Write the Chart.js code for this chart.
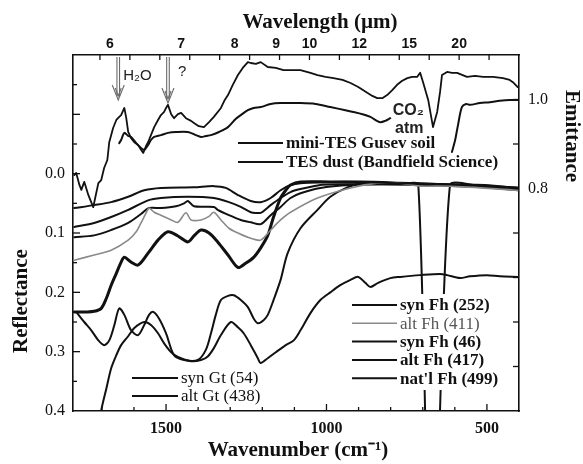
<!DOCTYPE html>
<html>
<head>
<meta charset="utf-8">
<script src="https://cdn.jsdelivr.net/npm/chart.js@4.4.1/dist/chart.umd.min.js"></script>
<style>
  html, body { margin: 0; padding: 0; background: #fff; }
  canvas { display: block; }
</style>
</head>
<body>
<canvas id="spectra" width="583" height="464"></canvas>
<script>
// axis labels
let wnTicks = [500, 1000, 1500];
let wlTicks = [6, 7, 8, 9, 10, 12, 15, 20];
let reflTicks = [0, 0.1, 0.2, 0.3, 0.4];
let emitTicks = [0.8, 1.0];

// emittance spectra (right axis)
let gusevNu = [1786,1780,1770,1764,1755,1742,1727,1711,1702,1693,1683,1677,1665,1655,1646,1640,1630,1624,1618,1609,1599,1587,1578,1571,1562,1556,1547,1537,1525,1516,1506,1500,1494,1484,1475,1463,1453,1438,1422,1413,1398,1382,1366,1351,1329,1317,1307,1292,1276,1261,1245,1236,1220,1205,1183,1158,1134,1106,1081,1050,1028,1003,978,950,925,901,873,857,842,826,811,795,780,764,748,733,717,708,699,683,668,655,646,640,624,609,593,562,537,512,481,450,429,419,404];
let gusevEm = [0.830,0.835,0.808,0.797,0.815,0.785,0.758,0.812,0.819,0.846,0.864,0.904,0.936,0.954,0.961,0.965,0.981,0.958,0.927,0.913,0.904,0.898,0.887,0.880,0.896,0.904,0.920,0.938,0.954,0.965,0.972,0.981,0.988,0.967,0.958,0.967,0.970,0.958,0.952,0.947,0.940,0.938,0.949,0.961,0.981,0.999,1.010,1.033,1.055,1.071,1.084,1.082,1.080,1.084,1.073,1.071,1.066,1.066,1.066,1.060,1.055,1.051,1.048,1.044,1.037,1.028,1.015,1.008,1.003,1.003,1.010,1.021,1.033,1.042,1.048,1.051,1.051,1.060,1.039,0.999,0.938,0.972,1.017,1.055,1.062,1.060,1.060,1.051,1.053,1.051,1.051,1.048,1.044,1.039,1.028];

let dustNu = [1646,1640,1630,1618,1609,1593,1578,1568,1556,1547,1537,1516,1494,1469,1432,1407,1391,1376,1360,1335,1307,1283,1267,1245,1227,1205,1174,1143,1081,1034,988,941,916,888,863,848,832,817,801,700,609,599,590,578,565,553,522,491,460,429,404];
let dustEm = [0.902,0.909,0.925,0.918,0.916,0.902,0.891,0.887,0.898,0.909,0.916,0.920,0.925,0.927,0.927,0.920,0.916,0.918,0.920,0.927,0.938,0.956,0.965,0.976,0.981,0.983,0.990,0.992,0.992,0.990,0.983,0.976,0.972,0.967,0.961,0.954,0.949,0.952,0.958,null,0.882,0.909,0.943,0.983,0.990,0.988,0.992,0.994,0.997,0.999,0.999];

// reflectance spectra (left axis)
let synFh252Nu = [1786,1724,1671,1618,1568,1516,1413,1351,1314,1276,1236,1205,1174,1143,1112,1081,988,894,770,615,506,404];
let synFh252R = [0.058,0.053,0.048,0.039,0.028,0.024,0.023,0.021,0.024,0.036,0.046,0.048,0.041,0.028,0.019,0.016,0.014,0.014,0.016,0.018,0.019,0.024];

let altFh411Nu = [1786,1724,1671,1618,1593,1578,1562,1553,1537,1516,1484,1463,1438,1422,1391,1366,1351,1329,1304,1276,1236,1205,1174,1143,1112,1028,925,842,770,708,615,404];
let altFh411R = [0.146,0.137,0.129,0.112,0.098,0.083,0.066,0.058,0.065,0.070,0.078,0.082,0.066,0.078,0.078,0.072,0.065,0.078,0.092,0.100,0.109,0.112,0.095,0.078,0.065,0.041,0.024,0.016,0.016,0.021,0.021,0.028];

let synFh46Nu = [1786,1724,1671,1618,1556,1516,1432,1351,1304,1267,1236,1205,1174,1143,1112,1081,1019,925,770,714,671,615,506,404];
let synFh46R = [0.090,0.083,0.073,0.061,0.045,0.041,0.039,0.041,0.048,0.056,0.065,0.066,0.053,0.041,0.031,0.026,0.019,0.018,0.018,0.018,0.84,0.019,0.023,0.028];

let altFh417Nu = [1786,1724,1671,1618,1578,1553,1516,1469,1444,1432,1413,1351,1339,1304,1267,1236,1205,1174,1143,1112,1081,1019,925,832,708,584,404];
let altFh417R = [0.107,0.104,0.095,0.083,0.068,0.058,0.058,0.055,0.050,0.046,0.055,0.056,0.061,0.070,0.078,0.082,0.085,0.070,0.056,0.041,0.033,0.024,0.019,0.018,0.019,0.021,0.026];

let natFhNu = [1786,1749,1724,1702,1686,1671,1655,1640,1630,1609,1587,1556,1525,1494,1463,1432,1413,1391,1366,1339,1307,1276,1252,1227,1205,1183,1165,1143,1127,1112,1081,988,894,770,615,404];
let natFhR = [0.233,0.233,0.232,0.227,0.210,0.188,0.168,0.149,0.141,0.149,0.154,0.134,0.112,0.098,0.105,0.115,0.105,0.095,0.100,0.115,0.137,0.158,0.151,0.141,0.125,0.104,0.073,0.041,0.028,0.019,0.014,0.014,0.014,0.016,0.019,0.024];

let synGtNu = [1780,1755,1733,1711,1693,1677,1661,1646,1630,1609,1587,1568,1553,1540,1522,1500,1475,1444,1401,1376,1360,1345,1329,1307,1289,1267,1245,1227,1214,1196,1183,1165,1143,1121,1081,1028,988,935,885,770,615,404];
let synGtR = [0.233,0.250,0.264,0.281,0.289,0.281,0.255,0.227,0.238,0.264,0.272,0.255,0.238,0.233,0.244,0.269,0.306,0.314,0.314,0.297,0.269,0.238,0.213,0.206,0.205,0.213,0.225,0.244,0.252,0.247,0.238,0.213,0.179,0.134,0.092,0.061,0.039,0.023,0.016,0.016,0.019,0.026];

let altGtNu = [1712,1702,1686,1671,1655,1640,1618,1599,1568,1547,1525,1506,1484,1463,1422,1391,1370,1351,1329,1298,1276,1258,1236,1214,1205,1183,1158,1127,1102,1081,1050,1019,988,957,925,901,879,863,839,801,770,708,646,624,584,553,500,460,404];
let altGtR = [0.440,0.399,0.362,0.328,0.306,0.289,0.274,0.260,0.250,0.255,0.269,0.286,0.301,0.309,0.316,0.314,0.308,0.294,0.272,0.250,0.259,0.269,0.289,0.311,0.319,0.311,0.301,0.289,0.281,0.264,0.235,0.213,0.200,0.188,0.179,0.174,0.184,0.191,0.184,0.176,0.174,0.171,0.169,0.171,0.176,0.173,0.171,0.173,0.174];

// annotation spots (wavenumber of the arrows / label)
let h2oNu = 1649;
let unknownNu = 1494;
let co2Nu = 745;

const serif = '"Liberation Serif", "Times New Roman", serif';
const sans = '"Liberation Sans", Arial, sans-serif';

function pts(nu, v) {
  return nu.map((n, i) => ({ x: n, y: v[i] }));
}

function line(label, nu, v, axis, extra) {
  return Object.assign({
    label: label,
    data: pts(nu, v),
    yAxisID: axis,
    xAxisID: 'x',
    borderColor: '#111',
    borderWidth: 2,
    tension: 0.3,
    fill: false,
    legendBold: true
  }, extra || {});
}

let datasets = [
  line('mini-TES Gusev soil', gusevNu, gusevEm, 'y2', { tension: 0, borderWidth: 1.8 }),
  line('TES dust (Bandfield Science)', dustNu, dustEm, 'y2'),
  line('syn Fh (252)', synFh252Nu, synFh252R, 'y'),
  line('alt Fh (411)', altFh411Nu, altFh411R, 'y', { borderColor: '#8a8a8a', borderWidth: 1.6, legendBold: false, legendColor: '#555' }),
  line('syn Fh (46)', synFh46Nu, synFh46R, 'y', { tension: 0.2 }),
  line('alt Fh (417)', altFh417Nu, altFh417R, 'y'),
  line("nat'l Fh (499)", natFhNu, natFhR, 'y', { borderWidth: 3 }),
  line('syn Gt (54)', synGtNu, synGtR, 'y', { legendBold: false }),
  line('alt Gt (438)', altGtNu, altGtR, 'y', { legendBold: false })
];

// legend groups drawn inside the plot
const legendSpots = [
  { items: [0, 1], x: 238, y: 143, gap: 19, len: 45 },
  { items: [2, 3, 4, 5, 6], x: 352, y: 305, gap: 18.3, len: 45, box: [348, 294, 162, 96] },
  { items: [7, 8], x: 132, y: 378, gap: 18, len: 46 }
];

function arrow(ctx, x, y0, y1) {
  ctx.strokeStyle = '#6a6a6a';
  ctx.lineWidth = 1.1;
  ctx.beginPath();
  ctx.moveTo(x - 1.3, y0); ctx.lineTo(x - 1.3, y1 - 4);
  ctx.moveTo(x + 1.3, y0); ctx.lineTo(x + 1.3, y1 - 4);
  ctx.stroke();
  ctx.beginPath();
  ctx.moveTo(x - 6, y1 - 15); ctx.lineTo(x, y1); ctx.lineTo(x + 6, y1 - 15);
  ctx.moveTo(x - 3, y1 - 12); ctx.lineTo(x, y1 - 4); ctx.lineTo(x + 3, y1 - 12);
  ctx.stroke();
}

const decor = {
  id: 'decor',
  afterDatasetsDraw(chart) {
    const { ctx, chartArea: a, scales } = chart;
    ctx.save();

    // legends
    legendSpots.forEach(g => {
      if (g.box) {
        ctx.fillStyle = '#fff';
        ctx.fillRect(g.box[0], g.box[1], g.box[2], g.box[3]);
      }
      g.items.forEach((k, i) => {
        const ds = chart.data.datasets[k];
        const y = g.y + i * g.gap;
        ctx.strokeStyle = ds.borderColor;
        ctx.lineWidth = Math.min(ds.borderWidth, 2);
        ctx.beginPath();
        ctx.moveTo(g.x, y);
        ctx.lineTo(g.x + g.len, y);
        ctx.stroke();
        ctx.fillStyle = ds.legendColor || '#111';
        ctx.font = (ds.legendBold ? 'bold ' : '') + '17px ' + serif;
        ctx.textAlign = 'left';
        ctx.textBaseline = 'middle';
        ctx.fillText(ds.label, g.x + g.len + 3, y + 1);
      });
    });

    // inward tick marks
    ctx.strokeStyle = '#111';
    ctx.lineWidth = 1.3;
    const tick = (x0, y0, x1, y1) => { ctx.beginPath(); ctx.moveTo(x0, y0); ctx.lineTo(x1, y1); ctx.stroke(); };
    for (let v = 500; v <= 1700; v += 100) {
      const p = scales.x.getPixelForValue(v);
      tick(p, a.bottom, p, a.bottom - (v % 500 === 0 ? 7 : 4));
    }
    for (let v = 400; v <= 1700; v += 100) {
      const p = scales.x2.getPixelForValue(v);
      tick(p, a.top, p, a.top + 5);
    }
    for (let k = -3; k <= 7; k++) {
      const p = scales.y.getPixelForValue(k * 0.05);
      tick(a.left, p, a.left + (k % 2 === 0 ? 7 : 4), p);
    }
    for (let k = 4; k <= 10; k++) {
      const p = scales.y2.getPixelForValue(k / 10);
      tick(a.right, p, a.right - 6, p);
    }

    // annotations
    const h2oX = scales.x.getPixelForValue(h2oNu);
    const qX = scales.x.getPixelForValue(unknownNu);
    arrow(ctx, h2oX, a.top + 2, a.top + 45);
    arrow(ctx, qX, a.top + 2, a.top + 48);
    ctx.fillStyle = '#222';
    ctx.textAlign = 'left';
    ctx.textBaseline = 'middle';
    ctx.font = '15px ' + sans;
    ctx.fillText('H\u2082O', h2oX + 5, a.top + 21);
    ctx.fillText('?', qX + 10, a.top + 17);
    const cx = scales.x.getPixelForValue(co2Nu);
    ctx.textAlign = 'center';
    ctx.font = 'bold 16px ' + sans;
    ctx.fillText('CO\u2082', cx, scales.y2.getPixelForValue(0.976));
    ctx.fillText('atm', cx + 1, scales.y2.getPixelForValue(0.934));
    ctx.restore();
  },
  afterDraw(chart) {
    const { ctx } = chart;
    const titles = [
      { text: 'Wavelength (\u00b5m)', x: 320, y: 23, rot: 0 },
      { text: 'Wavenumber (cm\u207b\u00b9)', x: 298, y: 451, rot: 0 },
      { text: 'Reflectance', x: 22, y: 301, rot: -Math.PI / 2 },
      { text: 'Emittance', x: 571, y: 136, rot: Math.PI / 2 }
    ];
    ctx.save();
    ctx.fillStyle = '#111';
    ctx.font = 'bold 21px ' + serif;
    ctx.textAlign = 'center';
    ctx.textBaseline = 'middle';
    titles.forEach(t => {
      ctx.save();
      ctx.translate(t.x, t.y);
      ctx.rotate(t.rot);
      ctx.fillText(t.text, 0, 0);
      ctx.restore();
    });
    ctx.restore();
  }
};

const frame = { display: true, color: '#111', width: 1.6 };
const noGrid = { display: false, drawTicks: false };

new Chart(document.getElementById('spectra').getContext('2d'), {
  type: 'line',
  data: { datasets: datasets },
  options: {
    responsive: false,
    animation: false,
    devicePixelRatio: 1,
    layout: { padding: 0 },
    elements: { point: { radius: 0 }, line: { borderJoinStyle: 'round', borderCapStyle: 'round' } },
    plugins: { legend: { display: false }, tooltip: { enabled: false } },
    scales: {
      x: {
        type: 'linear', position: 'bottom', reverse: true, min: 400, max: 1790,
        grid: noGrid, border: frame,
        afterBuildTicks: s => { s.ticks = wnTicks.map(v => ({ value: v })); },
        afterFit: s => { s.height = 53; },
        ticks: { color: '#111', padding: 8, autoSkip: false, maxRotation: 0,
                 callback: v => String(v),
                 font: { family: serif, size: 16, weight: 'bold' } }
      },
      x2: {
        type: 'linear', position: 'top', reverse: true, min: 300, max: 1790,
        grid: noGrid, border: frame,
        afterBuildTicks: s => { s.ticks = wlTicks.map(l => ({ value: 10000 / l })); },
        afterFit: s => { s.height = 55; },
        ticks: { color: '#111', padding: 2, autoSkip: false, maxRotation: 0,
                 callback: v => String(Math.round(10000 / v)),
                 font: { family: sans, size: 14, weight: 'bold' } }
      },
      y: {
        type: 'linear', position: 'left', reverse: true, min: -0.2, max: 0.4,
        grid: noGrid, border: frame,
        afterBuildTicks: s => { s.ticks = reflTicks.map(v => ({ value: v })); },
        afterFit: s => { s.width = 73; },
        ticks: { color: '#111', padding: 8, callback: v => v.toFixed(1),
                 font: { family: serif, size: 16 } }
      },
      y2: {
        type: 'linear', position: 'right', min: 0.3, max: 1.1,
        grid: noGrid, border: frame,
        afterBuildTicks: s => { s.ticks = emitTicks.map(v => ({ value: v })); },
        afterFit: s => { s.width = 64; },
        ticks: { color: '#111', padding: 9, callback: v => v.toFixed(1),
                 font: { family: serif, size: 16 } }
      }
    }
  },
  plugins: [decor]
});
</script>
</body>
</html>
